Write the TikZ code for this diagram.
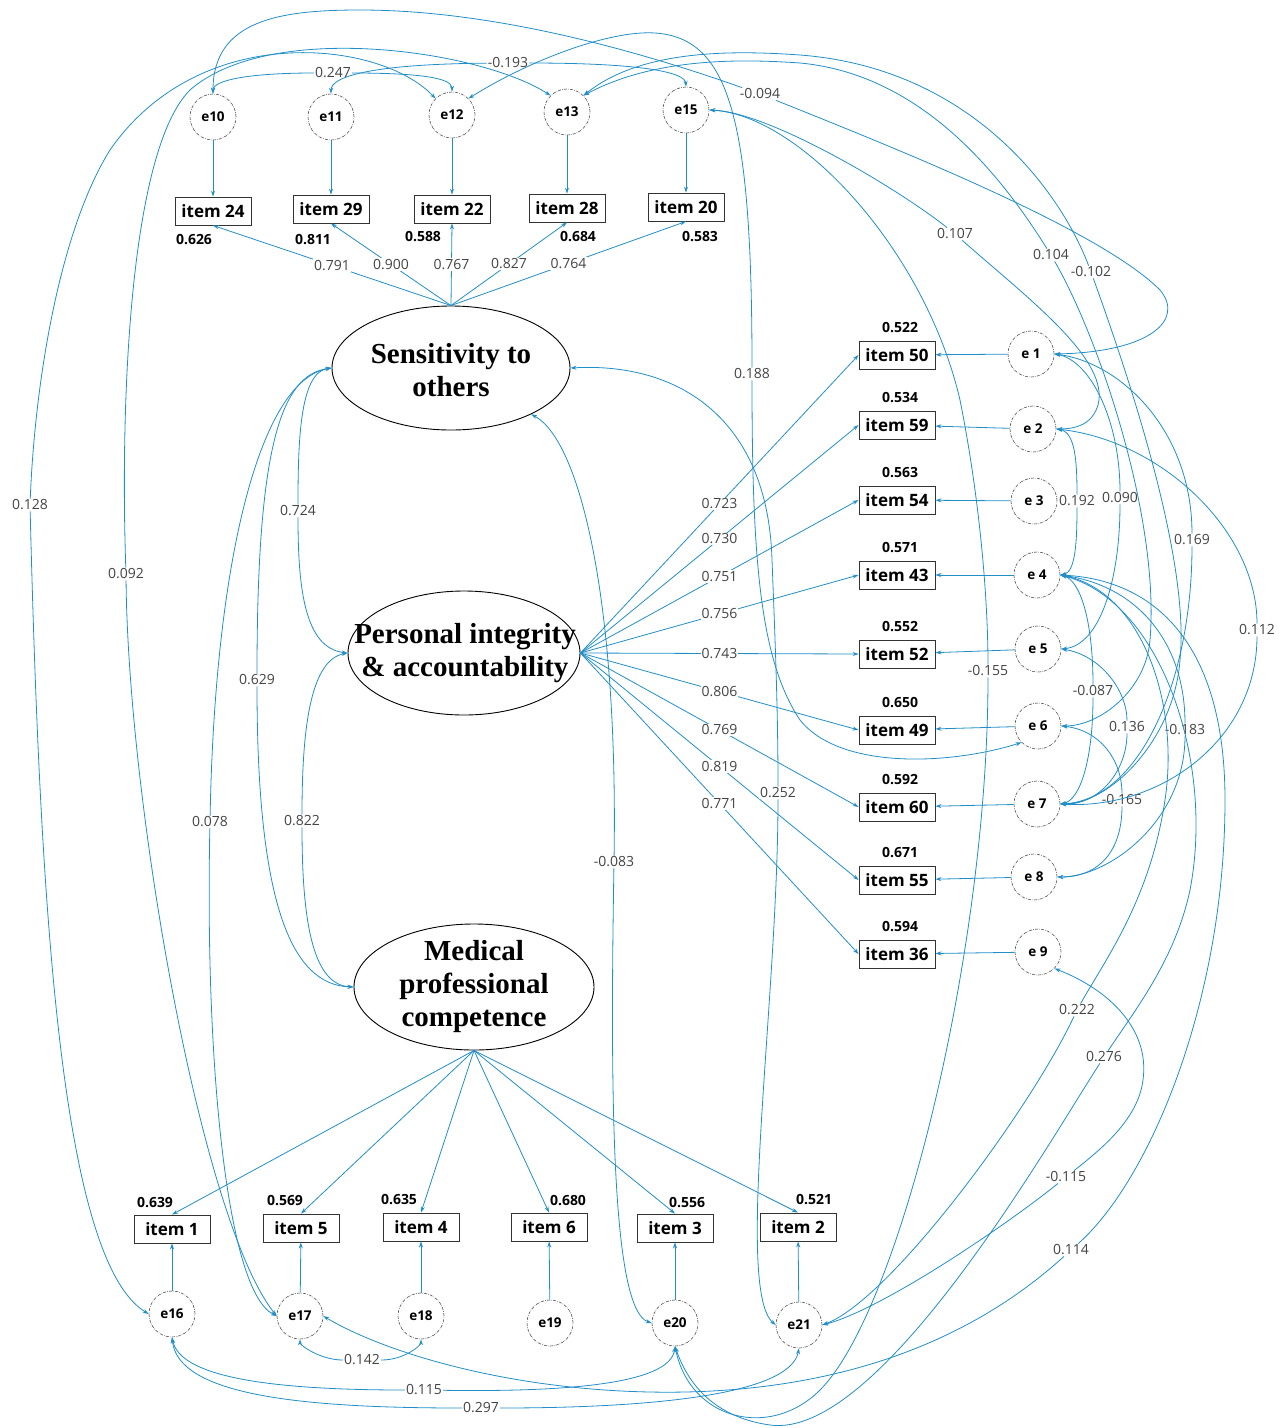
\documentclass[tikz,border=0pt]{standalone}
\usepackage{fontspec}
\setmainfont{Open Sans}
\newfontfamily\factorfont{Liberation Serif}
\usetikzlibrary{shapes.geometric,arrows.meta}
\definecolor{amos}{RGB}{33,142,201}
\definecolor{numgray}{RGB}{68,68,68}
\tikzset{
  obs/.style={draw=black!80, line width=0.9pt, minimum width=76pt, minimum height=28pt, inner sep=0pt, font=\fontsize{17}{19}\selectfont\bfseries},
  err/.style={circle, draw=black!70, line width=0.6pt, dash pattern=on 3pt off 1.2pt on 0.6pt off 1.2pt, minimum size=46pt, inner sep=0pt, font=\fontsize{13.5}{15}\selectfont\bfseries},
  factor/.style={ellipse, draw=black, line width=0.9pt, inner sep=0pt},
  factxt/.style={align=center, inner sep=0pt, font=\factorfont\fontsize{29}{33}\selectfont\bfseries},
  rsq/.style={font=\fontsize{14}{16}\selectfont\bfseries},
  lbl/.style={fill=white, inner sep=1pt, text=numgray, font=\fontsize{14}{16}\selectfont},
  load/.style={amos, line width=0.8pt, -{Stealth[length=6pt,width=4pt]}},
  cova/.style={amos, line width=0.8pt, {Stealth[length=6pt,width=4pt]}-},
  covb/.style={amos, line width=0.8pt, -{Stealth[length=6pt,width=4pt]}},
}
\begin{document}
\begin{tikzpicture}[x=1pt,y=1pt]
  \useasboundingbox (0,0) rectangle (1284,-1428);

  % latent factors
  \node[factor, minimum width=238pt, minimum height=124pt] (sens) at (451,-368) {};
  \node[factxt] (senst) at (451,-370) {Sensitivity to\\others};
  \node[factor, minimum width=232pt, minimum height=124pt] (pers) at (464,-653) {};
  \node[factxt] (perst) at (465,-653) {Personal integrity\\\& accountability};
  \node[factor, minimum width=240pt, minimum height=126pt] (med) at (474,-987) {};
  \node[factxt] (medt) at (474,-987) {Medical\\professional\\competence};

  % top block
  \foreach \e/\i/\x/\ye/\yi in {10/24/213/117/211, 11/29/331/117/209, 12/22/452/115/209, 13/28/567/112/208, 15/20/686/110/207} {
    \node[err] (e\e) at (\x,-\ye) {e\e};
    \node[obs] (i\i) at (\x,-\yi) {item \i};
    \draw[load] (e\e) -- (i\i);
  }
  \foreach \i/\v/\x/\y in {24/0.626/194/240, 29/0.811/313/240, 22/0.588/423/237, 28/0.684/578/237, 20/0.583/700/237}
    \node[rsq] (r\i) at (\x,-\y) {\v};
  \foreach \i/\v in {24/0.791, 29/0.900, 22/0.767, 28/0.827, 20/0.764}
    \draw[load] (sens.north) -- (i\i.south) node[lbl, pos=0.5] (t\i) {\v};

  % right block
  \foreach \i/\y/\e/\ex/\ey/\r/\v in {50/355/1/1031/354/0.522/0.723, 59/425/2/1033/429/0.534/0.730,
      54/500/3/1034/501/0.563/0.751, 43/575/4/1037/575/0.571/0.756, 52/654/5/1038/649/0.552/0.743,
      49/730/6/1038/726/0.650/0.806, 60/807/7/1037/804/0.592/0.769, 55/880/8/1034/877/0.671/0.819,
      36/954/9/1038/952/0.594/0.771} {
    \node[obs] (i\i) at (897,-\y) {item \i};
    \node[rsq] (r\i) at (900,-\y+27) {\r};
    \node[err] (e\e) at (\ex,-\ey) {e \e};
    \draw[load] (e\e) -- (i\i);
    \draw[load] (pers.east) -- (i\i.west) node[lbl, pos=0.5] (t\i) {\v};
  }

  % bottom block
  \foreach \i/\x/\yi/\e/\ex/\ey/\r/\rx/\ry in {1/172/1229/16/172/1314/0.639/155/1203, 5/301/1228/17/300/1316/0.569/285/1201,
      4/421/1227/18/421/1316/0.635/399/1200, 6/549/1227/19/550/1323/0.680/568/1201,
      3/675/1228/20/675/1323/0.556/687/1202, 2/798/1227/21/799/1325/0.521/814/1200} {
    \node[obs] (i\i) at (\x,-\yi) {item \i};
    \node[rsq] (r\i) at (\rx,-\ry) {\r};
    \node[err] (e\e) at (\ex,-\ey) {e\e};
    \draw[load] (e\e) -- (i\i);
    \draw[load] (med.south) -- (i\i.north);
  }

  % covariance labels
  \node[lbl] (c247) at (333,-73) {0.247};
  \node[lbl] (c193) at (508,-63) {-0.193};
  \node[lbl] (c094) at (760,-94) {-0.094};
  \node[lbl] (c188) at (752,-374) {0.188};
  \node[lbl] (c128) at (30,-505) {0.128};
  \node[lbl] (c092) at (126,-574) {0.092};
  \node[lbl] (c078) at (210,-822) {0.078};
  \node[lbl] (c724) at (298,-511) {0.724};
  \node[lbl] (c629) at (257,-680) {0.629};
  \node[lbl] (c822) at (302,-821) {0.822};
  \node[lbl] (c083) at (614,-862) {-0.083};
  \node[lbl] (c252) at (778,-793) {0.252};
  \node[lbl] (c107) at (955,-234) {0.107};
  \node[lbl] (c104) at (1051,-255) {0.104};
  \node[lbl] (c102) at (1091,-272) {-0.102};
  \node[lbl] (c192) at (1077,-501) {0.192};
  \node[lbl] (c090) at (1120,-498) {0.090};
  \node[lbl] (c169) at (1192,-540) {0.169};
  \node[lbl] (c112) at (1257,-630) {0.112};
  \node[lbl] (c155) at (988,-671) {-0.155};
  \node[lbl] (c087) at (1093,-691) {-0.087};
  \node[lbl] (c136) at (1127,-727) {0.136};
  \node[lbl] (c183) at (1185,-730) {-0.183};
  \node[lbl] (c165) at (1122,-800) {-0.165};
  \node[lbl] (c222) at (1077,-1010) {0.222};
  \node[lbl] (c276) at (1104,-1057) {0.276};
  \node[lbl] (c115n) at (1066,-1177) {-0.115};
  \node[lbl] (c114) at (1071,-1250) {0.114};
  \node[lbl] (c142) at (362,-1360) {0.142};
  \node[lbl] (c115) at (424,-1390) {0.115};
  \node[lbl] (c297) at (481,-1408) {0.297};

  % factor covariances
  \draw[cova] (sens.west) .. controls (300,-372) and (298,-440) .. (c724);
  \draw[covb] (c724) .. controls (298,-590) and (305,-648) .. (pers.west);
  \draw[cova] (sens.west) .. controls (280,-375) and (257,-450) .. (c629);
  \draw[covb] (c629) .. controls (257,-900) and (290,-985) .. (med.west);
  \draw[cova] (pers.west) .. controls (310,-660) and (302,-730) .. (c822);
  \draw[covb] (c822) .. controls (302,-930) and (315,-985) .. (med.west);
  \draw[cova] (sens.west) .. controls (260,-380) and (215,-560) .. (c078);
  \draw[covb] (c078) .. controls (205,-1050) and (225,-1290) .. (e17.west);
  \draw[cova] (sens.-30) .. controls (580,-440) and (618,-600) .. (c083);
  \draw[covb] (c083) .. controls (610,-1100) and (612,-1310) .. (e20.west);
  \draw[cova] (sens.east) .. controls (680,-362) and (768,-420) .. (772,-560) .. controls (776,-660) and (778,-720) .. (c252);
  \draw[covb] (c252) .. controls (778,-1000) and (735,-1290) .. (e21.west);

  % top errors
  \draw[cova] (e10.north) .. controls (213,-80) and (250,-73) .. (c247);
  \draw[covb] (c247) .. controls (420,-73) and (452,-78) .. (e12.north);
  \draw[cova] (e11.north) .. controls (331,-75) and (380,-64) .. (c193);
  \draw[covb] (c193) .. controls (640,-63) and (685,-72) .. (e15.north);
  \draw[cova] (e10.north) .. controls (213,-20) and (280,-10) .. (360,-10) .. controls (500,-10) and (650,-55) .. (c094);
  \draw[covb] (c094) .. controls (900,-150) and (1100,-230) .. (1160,-290) .. controls (1185,-320) and (1150,-352) .. (e1.east);
  \draw[cova] (e12.north east) .. controls (530,-60) and (610,-30) .. (655,-33) .. controls (730,-38) and (752,-120) .. (c188);
  \draw[covb] (c188) .. controls (752,-560) and (760,-660) .. (800,-720) .. controls (840,-770) and (950,-765) .. (e6.south west);
  \draw[cova] (e12.north west) .. controls (380,-40) and (200,-20) .. (110,-150) .. controls (60,-230) and (35,-380) .. (c128);
  \draw[covb] (c128) .. controls (40,-900) and (60,-1260) .. (e16.west);
  \draw[cova] (e13.north west) .. controls (480,-50) and (270,-20) .. (190,-90) .. controls (130,-150) and (120,-400) .. (c092);
  \draw[covb] (c092) .. controls (128,-800) and (200,-1220) .. (e17.west);
  \draw[cova] (e13.north east) .. controls (650,-60) and (730,-58) .. (800,-63) .. controls (930,-75) and (1010,-190) .. (c104);
  \draw[covb] (c104) .. controls (1100,-340) and (1160,-520) .. (1150,-640) .. controls (1146,-690) and (1100,-726) .. (e6.east);
  \draw[cova] (e13.north east) .. controls (640,-50) and (730,-50) .. (800,-55) .. controls (970,-68) and (1060,-190) .. (c102);
  \draw[covb] (c102) .. controls (1130,-380) and (1190,-560) .. (1180,-660) .. controls (1174,-740) and (1110,-804) .. (e7.east);
  \draw[cova] (e15.east) .. controls (770,-112) and (900,-190) .. (c107);
  \draw[covb] (c107) .. controls (1030,-300) and (1110,-360) .. (1098,-405) .. controls (1092,-425) and (1075,-429) .. (e2.east);
  \draw[cova] (e15.east) .. controls (800,-115) and (925,-250) .. (960,-400) .. controls (980,-500) and (988,-600) .. (c155);
  \draw[covb] (c155) .. controls (988,-950) and (900,-1310) .. (820,-1390) .. controls (770,-1440) and (690,-1420) .. (e20.south);

  % right errors
  \draw[cova] (e1.east) .. controls (1090,-360) and (1120,-420) .. (c090);
  \draw[covb] (c090) .. controls (1120,-580) and (1100,-645) .. (e5.east);
  \draw[cova] (e2.east) .. controls (1075,-432) and (1077,-460) .. (c192);
  \draw[covb] (c192) .. controls (1077,-545) and (1075,-572) .. (e4.east);
  \draw[cova] (e1.east) .. controls (1120,-362) and (1192,-430) .. (c169);
  \draw[covb] (c169) .. controls (1192,-680) and (1140,-800) .. (e7.east);
  \draw[cova] (e2.east) .. controls (1160,-440) and (1257,-530) .. (c112);
  \draw[covb] (c112) .. controls (1257,-740) and (1160,-810) .. (e7.east);
  \draw[cova] (e4.east) .. controls (1080,-580) and (1093,-620) .. (c087);
  \draw[covb] (c087) .. controls (1093,-760) and (1080,-800) .. (e7.east);
  \draw[cova] (e5.east) .. controls (1100,-655) and (1127,-690) .. (c136);
  \draw[covb] (c136) .. controls (1127,-770) and (1100,-805) .. (e7.east);
  \draw[cova] (e6.east) .. controls (1100,-730) and (1122,-760) .. (c165);
  \draw[covb] (c165) .. controls (1122,-850) and (1100,-877) .. (e8.east);
  \draw[cova] (e4.east) .. controls (1135,-585) and (1185,-640) .. (c183);
  \draw[covb] (c183) .. controls (1185,-820) and (1110,-877) .. (e8.east);
  \draw[cova] (e4.east) .. controls (1140,-590) and (1180,-700) .. (1165,-800) .. controls (1150,-900) and (1105,-960) .. (c222);
  \draw[covb] (c222) .. controls (1030,-1110) and (890,-1300) .. (e21.east);
  \draw[cova] (e4.east) .. controls (1160,-600) and (1215,-760) .. (1190,-890) .. controls (1175,-960) and (1135,-1010) .. (c276);
  \draw[covb] (c276) .. controls (1050,-1140) and (880,-1440) .. (770,-1425) .. controls (720,-1418) and (690,-1390) .. (e20.south);
  \draw[cova] (e4.east) .. controls (1160,-580) and (1225,-650) .. (1225,-800) .. controls (1225,-1000) and (1150,-1180) .. (c114);
  \draw[covb] (c114) .. controls (950,-1360) and (800,-1395) .. (650,-1392) .. controls (500,-1389) and (380,-1350) .. (e17.east);
  \draw[cova] (e9.south east) .. controls (1110,-990) and (1150,-1030) .. (1143,-1080) .. controls (1138,-1120) and (1100,-1150) .. (c115n);
  \draw[covb] (c115n) .. controls (1000,-1230) and (880,-1310) .. (e21.east);

  % bottom errors
  \draw[cova] (e17.south) .. controls (300,-1345) and (320,-1360) .. (c142);
  \draw[covb] (c142) .. controls (405,-1360) and (421,-1345) .. (e18.south);
  \draw[cova] (e16.south) .. controls (180,-1375) and (260,-1390) .. (c115);
  \draw[covb] (c115) .. controls (560,-1392) and (670,-1385) .. (e20.south);
  \draw[cova] (e16.south) .. controls (178,-1395) and (300,-1408) .. (c297);
  \draw[covb] (c297) .. controls (650,-1408) and (790,-1395) .. (e21.south);
\end{tikzpicture}
\end{document}
